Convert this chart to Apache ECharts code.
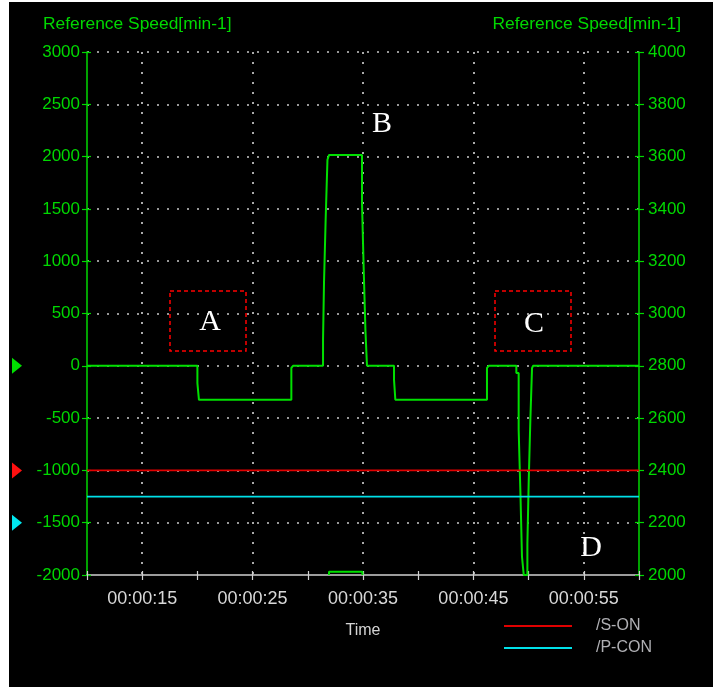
<!DOCTYPE html>
<html><head><meta charset="utf-8">
<script src="https://cdn.jsdelivr.net/npm/echarts@6/dist/echarts.min.js"></script>
<style>
html,body{margin:0;padding:0;background:#fff;width:713px;height:687px;overflow:hidden}
#bg{position:absolute;left:9px;top:2px;width:704px;height:685px;background:#000}
#chart{position:absolute;left:0;top:0;width:713px;height:687px}
</style></head><body><div id="bg"></div><div id="chart"></div>
<script>
// ---- data ----
const timeRange = [10, 60];
const speedTime = [10, 20.00, 20.14, 28.51, 28.66, 31.38, 31.47, 31.62, 31.78, 31.92, 34.91, 35.06, 35.22, 35.36, 37.81, 37.93, 46.23, 46.39, 48.89, 49.10, 49.26, 49.40, 49.56, 49.89, 50.01, 50.16, 50.31, 50.40, 60];
const speedValue = [0, -165, -325, -20, 0, 250, 805, 1410, 1970, 2015, 1555, 935, 340, 0, -135, -325, -20, 0, -70, -612, -1218, -1824, -2000, -1702, -1106, -510, -22, 0, 0];
const pulseTime = [31.92, 31.92, 34.95, 34.95];
const pulseValue = [-2000, -1968, -1968, -2000];
const sOnLevel = -1000;
const pConLevel = -1250;
const leftTicks = { min: -2000, max: 3000, step: 500 };
const rightTicks = { min: 2000, max: 4000, step: 200 };
const markerLevels = [0, -1000, -1500];
const markerColors = ['#00e000', '#ff1010', '#00e8f0'];
const axisTitle = 'Reference Speed[min-1]';
const letters = ['A', 'B', 'C', 'D'];

const GREEN = '#00d800';
const font = 'Liberation Sans, Arial, sans-serif';
const pad = n => (n < 10 ? '0' : '') + n;

// sample-and-hold: value i holds from time i until time i+1
const speedPoints = [];
speedTime.forEach((t, i) => {
  if (i > 0) speedPoints.push([t, speedValue[i - 1]]);
  speedPoints.push([t, speedValue[i]]);
});
const pulsePoints = pulseTime.map((t, i) => [t, pulseValue[i]]);

const chart = echarts.init(document.getElementById('chart'));
const dotted = { type: [2, 8], width: 1.7, color: '#c8c8c8' };
const plain = v => String(v);

const tickOnly = (extra) => Object.assign({
  axisLine: { show: false, onZero: false }, axisLabel: { show: false }, splitLine: { show: false }
}, extra);

chart.setOption({
  animation: false,
  backgroundColor: 'transparent',
  grid: { left: 87, top: 52, width: 552, height: 523, containLabel: false },
  legend: {
    orient: 'vertical', left: 504, top: 618, itemGap: 6, padding: 0,
    itemWidth: 68, itemHeight: 2, icon: 'rect',
    textStyle: { color: '#b0b0b4', fontSize: 16, fontFamily: font, padding: [0, 0, 0, 19] },
    data: ['/S-ON', '/P-CON']
  },
  xAxis: [
    {
      type: 'value', position: 'bottom', min: timeRange[0], max: timeRange[1], interval: 5,
      name: 'Time', nameLocation: 'middle', nameGap: 48,
      nameTextStyle: { color: '#d4d4d4', fontSize: 16, fontFamily: font },
      axisLine: { show: true, onZero: false, lineStyle: { color: '#d0d0d0', width: 1.5 } },
      axisTick: { length: 5, lineStyle: { color: '#d0d0d0', width: 1.2 } },
      axisLabel: {
        color: '#d8d8d8', fontSize: 18, fontFamily: font, margin: 15,
        formatter: v => (v % 10 === 5 ? '00:00:' + pad(v) : '')
      },
      splitLine: { show: true, lineStyle: Object.assign({}, dotted, { color: ['rgba(0,0,0,0)', '#c8c8c8'] }) }
    },
    tickOnly({
      type: 'value', position: 'bottom', min: timeRange[0], max: timeRange[1], interval: 5,
      axisTick: { show: true, inside: true, length: 4, lineStyle: { color: '#d0d0d0', width: 1.2 } }
    })
  ],
  yAxis: [
    {
      type: 'value', position: 'left', min: leftTicks.min, max: leftTicks.max, interval: leftTicks.step,
      axisLine: { show: true, onZero: false, lineStyle: { color: GREEN, width: 1.5 } },
      axisTick: { show: true, length: 5, lineStyle: { color: GREEN, width: 1.2 } },
      axisLabel: { color: GREEN, fontSize: 17, fontFamily: font, margin: 7, formatter: plain },
      splitLine: { show: true, showMinLine: false, lineStyle: dotted }
    },
    {
      type: 'value', position: 'right', min: rightTicks.min, max: rightTicks.max, interval: rightTicks.step,
      axisLine: { show: true, onZero: false, lineStyle: { color: GREEN, width: 1.5 } },
      axisTick: { show: true, length: 5, lineStyle: { color: GREEN, width: 1.2 } },
      axisLabel: { color: GREEN, fontSize: 17, fontFamily: font, margin: 9, formatter: plain },
      splitLine: { show: false }
    },
    tickOnly({
      type: 'value', position: 'left', min: leftTicks.min, max: leftTicks.max, interval: leftTicks.step,
      axisTick: { show: true, inside: true, length: 4, lineStyle: { color: GREEN, width: 1.2 } }
    }),
    tickOnly({
      type: 'value', position: 'right', min: rightTicks.min, max: rightTicks.max, interval: rightTicks.step,
      axisTick: { show: true, inside: true, length: 4, lineStyle: { color: GREEN, width: 1.2 } }
    })
  ],
  series: [
    {
      name: 'Speed', type: 'line', showSymbol: false, z: 3,
      data: speedPoints,
      lineStyle: { color: '#00e000', width: 2 }, itemStyle: { color: '#00e000' }
    },
    {
      name: 'Pulse', type: 'line', showSymbol: false, z: 1,
      data: pulsePoints,
      lineStyle: { color: '#00e000', width: 2 }, itemStyle: { color: '#00e000' }
    },
    {
      name: '/S-ON', type: 'line', showSymbol: false, z: 4,
      data: [[timeRange[0], sOnLevel], [timeRange[1], sOnLevel]],
      lineStyle: { color: '#e00000', width: 1.8 }, itemStyle: { color: '#e00000' }
    },
    {
      name: '/P-CON', type: 'line', showSymbol: false, z: 4,
      data: [[timeRange[0], pConLevel], [timeRange[1], pConLevel]],
      lineStyle: { color: '#00e0e8', width: 1.8 }, itemStyle: { color: '#00e0e8' }
    }
  ]
});

// annotation graphics
const g = [];
markerLevels.forEach((lv, i) => {
  const y = chart.convertToPixel({ yAxisIndex: 0 }, lv);
  g.push({ type: 'polygon', shape: { points: [[12, y - 8], [22, y], [12, y + 8]] }, style: { fill: markerColors[i] } });
});
g.push({ type: 'text', left: 43, top: 16, style: { text: axisTitle, fill: GREEN, font: '17.4px ' + font } });
g.push({ type: 'text', right: 32, top: 16, style: { text: axisTitle, fill: GREEN, font: '17.4px ' + font } });
const boxes = [[170, 291, 76, 60], [495, 291, 76, 60]];
boxes.forEach(b => g.push({ type: 'rect', shape: { x: b[0], y: b[1], width: b[2], height: b[3] },
  style: { fill: 'none', stroke: '#ff0000', lineWidth: 1.5, lineDash: [4, 3] } }));
const letterPos = [[210, 322], [382, 124], [534, 324], [591, 548]];
letters.forEach((t, i) => g.push({ type: 'text', x: letterPos[i][0], y: letterPos[i][1],
  style: { text: t, fill: '#ffffff', font: '30px "Liberation Serif", "Times New Roman", serif', align: 'center', verticalAlign: 'middle' } }));
chart.setOption({ graphic: g });
</script></body></html>
